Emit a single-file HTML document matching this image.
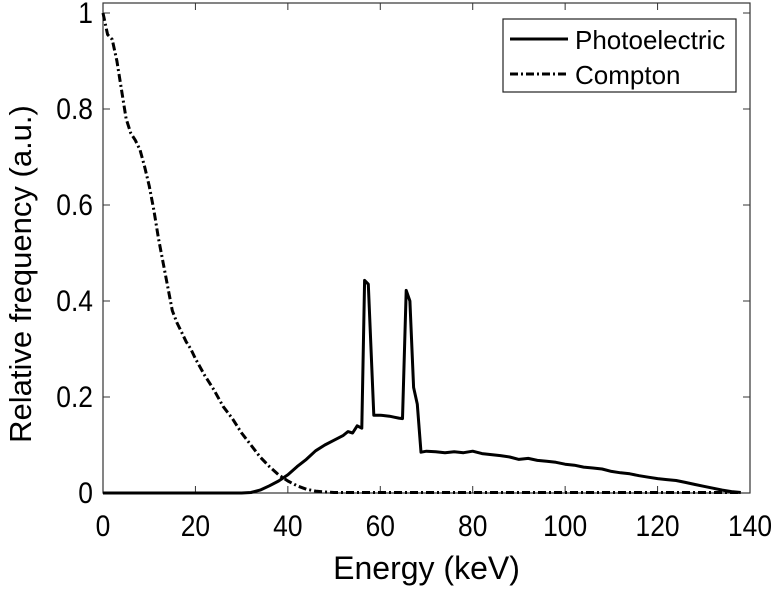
<!DOCTYPE html>
<html><head><meta charset="utf-8"><style>
html,body{margin:0;padding:0;background:#fff;}
svg{display:block;font-family:"Liberation Sans",Arial,sans-serif;}
</style></head><body>
<svg id="chart" width="780" height="589" viewBox="0 0 780 589" xmlns="http://www.w3.org/2000/svg">
<rect x="0" y="0" width="780" height="589" fill="#fff"/>
<g id="plot"></g>
</svg>
<script>
const xTicks = [0,20,40,60,80,100,120,140];
const yTicks = [0,0.2,0.4,0.6,0.8,1];
const yTickLabels = ["0","0.2","0.4","0.6","0.8","1"];
const photoE = [0,10,20,30,32,34,36,38,40,42,44,46,48,50,52,53,54,55,56,56.6,57.4,58.6,60,62,63,64,64.8,65.6,66.4,67.2,68,68.8,70,72,74,76,78,80,82,84,86,88,90,92,94,96,98,100,102,104,106,108,110,112,114,116,118,120,122,124,126,128,130,132,134,136,138];
const photoV = [0,0,0,0,0.001,0.006,0.015,0.025,0.038,0.055,0.07,0.088,0.1,0.11,0.12,0.128,0.125,0.14,0.135,0.443,0.435,0.162,0.162,0.16,0.158,0.156,0.155,0.422,0.4,0.22,0.185,0.085,0.087,0.086,0.084,0.086,0.084,0.087,0.082,0.08,0.078,0.075,0.07,0.072,0.068,0.066,0.064,0.06,0.058,0.054,0.052,0.05,0.045,0.042,0.04,0.036,0.033,0.03,0.028,0.026,0.022,0.018,0.014,0.01,0.006,0.003,0.001];
const comptE = [0,1,2,3,4,5,6,7,8,9,10,11,12,13,14,15,16,17,18,19,20,22,24,26,28,30,32,34,36,38,40,42,44,46,48,50,55,60,70,80,90,100,110,120,130,138];
const comptV = [1.0,0.955,0.945,0.9,0.84,0.78,0.75,0.735,0.715,0.68,0.64,0.59,0.53,0.48,0.43,0.38,0.355,0.335,0.315,0.3,0.28,0.245,0.215,0.18,0.155,0.125,0.1,0.075,0.055,0.038,0.025,0.015,0.008,0.004,0.002,0.001,0.001,0.001,0.001,0.001,0.001,0.001,0.001,0.001,0.001,0.001];

const X0=103, X1=750, Y0=493, Y1=13, TOP=3;
const sx = v => X0 + (v/140)*(X1-X0);
const sy = v => Y0 - v*(Y0-Y1);
const NS='http://www.w3.org/2000/svg';
const g=document.getElementById('plot');
function mk(tag, attrs){const e=document.createElementNS(NS,tag);for(const k in attrs)e.setAttribute(k,attrs[k]);g.appendChild(e);return e;}

const frame=mk('rect',{x:X0,y:TOP,width:X1-X0,height:Y0-TOP,fill:'none',stroke:'#333','stroke-width':1.2});



xTicks.forEach(t=>{
  const x=sx(t);
  const a=mk('line',{x1:x,y1:Y0,x2:x,y2:Y0-7,stroke:'#333','stroke-width':1});
  
  
  const b=mk('line',{x1:x,y1:TOP,x2:x,y2:TOP+7,stroke:'#333','stroke-width':1});
  
  
  const tx=mk('text',{x:x,y:536,'text-anchor':'middle','font-size':30,fill:'#000',transform:'translate('+x+',0) scale(0.88,1) translate('+(-x)+',0)'});
  tx.textContent=String(t);
  
  
});
yTicks.forEach((t,i)=>{
  const y=sy(t);
  const a=mk('line',{x1:X0,y1:y,x2:X0+7,y2:y,stroke:'#333','stroke-width':1});
  
  
  const b=mk('line',{x1:X1,y1:y,x2:X1-7,y2:y,stroke:'#333','stroke-width':1});
  
  
  const ax=X0-10;
  const tx=mk('text',{x:ax,y:y+10,'text-anchor':'end','font-size':30,fill:'#000',transform:'translate('+ax+',0) scale(0.88,1) translate('+(-ax)+',0)'});
  tx.textContent=yTickLabels[i];
  
  
});

const xt=mk('text',{x:(X0+X1)/2,y:579,'text-anchor':'middle','font-size':32,fill:'#000'});
xt.textContent='Energy (keV)';


const yt=mk('text',{x:0,y:0,'text-anchor':'middle','font-size':31,fill:'#000',transform:'translate(31,274) rotate(-90)'});
yt.textContent='Relative frequency (a.u.)';



function pts(E,V){return E.map((e,i)=>sx(e).toFixed(1)+','+sy(V[i]).toFixed(1)).join(' ');}
const cl=mk('polyline',{points:pts(comptE,comptV),fill:'none',stroke:'#000','stroke-width':3,'stroke-dasharray':'8,3,2,3','stroke-linejoin':'round'});


const pl=mk('polyline',{points:pts(photoE,photoV),fill:'none',stroke:'#000','stroke-width':3,'stroke-linejoin':'round'});



const lg=mk('rect',{x:503,y:19,width:233,height:73,fill:'#fff',stroke:'#222','stroke-width':1.2});


const l1=mk('line',{x1:510,y1:39,x2:568,y2:39,stroke:'#000','stroke-width':3});


const t1=mk('text',{x:575,y:49,'font-size':26,fill:'#000'});
t1.textContent='Photoelectric';


const l2=mk('line',{x1:510,y1:74,x2:568,y2:74,stroke:'#000','stroke-width':3,'stroke-dasharray':'8,3,2,3'});


const t2=mk('text',{x:575,y:84,'font-size':26,fill:'#000'});
t2.textContent='Compton';


</script>
</body></html>
